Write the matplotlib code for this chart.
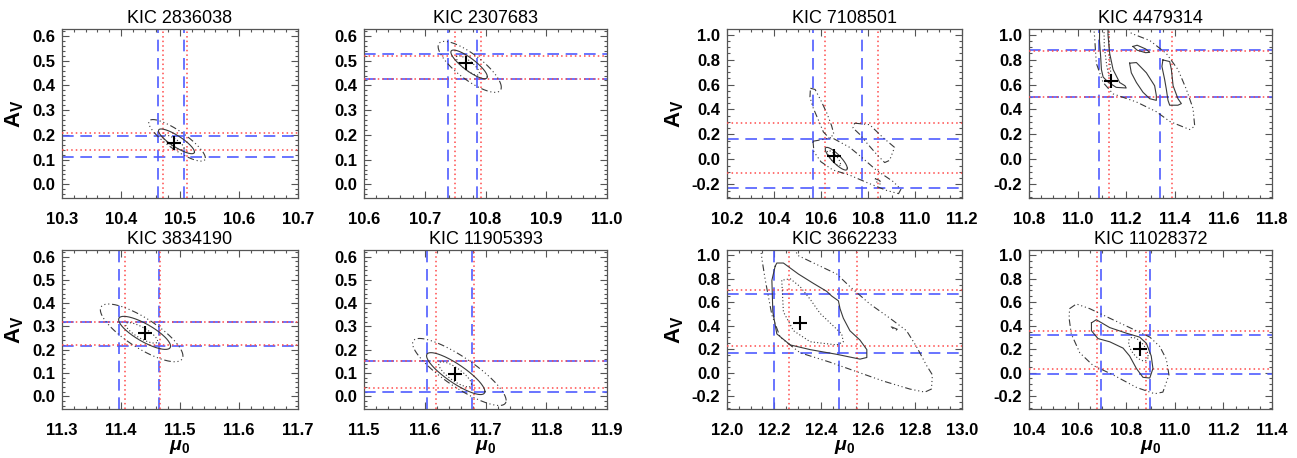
import numpy as np
import matplotlib.pyplot as plt
from matplotlib.ticker import MultipleLocator, FormatStrFormatter

plt.rcParams['font.family'] = ['Liberation Sans', 'DejaVu Sans']
plt.rcParams['axes.unicode_minus'] = False
plt.rcParams['mathtext.fontset'] = 'custom'
plt.rcParams['mathtext.rm'] = 'Liberation Sans:bold'
plt.rcParams['mathtext.it'] = 'Liberation Sans:italic:bold'

kic_ids = ['KIC 2836038', 'KIC 2307683', 'KIC 7108501', 'KIC 4479314',
           'KIC 3834190', 'KIC 11905393', 'KIC 3662233', 'KIC 11028372']
mu_ranges = [(10.3, 10.7), (10.6, 11.0), (10.2, 11.2), (10.8, 11.8),
             (11.3, 11.7), (11.5, 11.9), (12.0, 13.0), (10.4, 11.4)]

# best fit (mu0, Av)
best_mu = [10.489, 10.768, 10.655, 11.139, 11.440, 11.649, 12.311, 10.855]
best_av = [0.169, 0.492, 0.023, 0.629, 0.271, 0.094, 0.424, 0.201]

# confidence limits: blue = method 1, red = method 2
blue_mu = [(10.463, 10.507), (10.738, 10.786), (10.566, 10.776), (11.088, 11.340),
           (11.397, 11.464), (11.604, 11.678), (12.198, 12.477), (10.695, 10.897)]
red_mu = [(10.472, 10.512), (10.750, 10.793), (10.618, 10.841), (11.129, 11.388),
          (11.407, 11.466), (11.618, 11.681), (12.262, 12.554), (10.681, 10.883)]
blue_av = [(0.110, 0.195), (0.427, 0.525), (-0.229, 0.161), (0.501, 0.873),
           (0.215, 0.318), (0.016, 0.150), (0.169, 0.666), (-0.013, 0.322)]
red_av = [(0.139, 0.206), (0.424, 0.518), (-0.109, 0.288), (0.496, 0.868),
          (0.219, 0.320), (0.036, 0.151), (0.231, 0.706), (0.035, 0.352)]

# contours: tuple = ellipse (cx, cy, sx, sy, rho), list = traced outline
inner_contours = [
    [(10.489, 0.170, 0.018, 0.030, -0.8)],
    [(10.771, 0.481, 0.019, 0.039, -0.8)],
    [(10.655, 0.010, 0.028, 0.060, -0.8)],
    [[(11.108, 1.10), (11.110, 0.90), (11.120, 0.75), (11.130, 0.66), (11.140, 0.64),
      (11.135, 0.72), (11.130, 0.85), (11.128, 1.10)]],
    [(11.435, 0.272, 0.027, 0.044, -0.8)],
    [(11.650, 0.094, 0.027, 0.054, -0.8)],
    [[(12.233, 0.787), (12.240, 0.518), (12.283, 0.357), (12.354, 0.263), (12.467, 0.236),
      (12.495, 0.263), (12.488, 0.330), (12.446, 0.410), (12.396, 0.505), (12.354, 0.625),
      (12.311, 0.733), (12.269, 0.800)]],
    [(10.850, 0.200, 0.040, 0.100, -0.6)],
]
mid_contours = [
    [(10.494, 0.174, 0.0305, 0.050, -0.85)],
    [(10.773, 0.485, 0.030, 0.058, -0.85)],
    [(10.665, 0.005, 0.047, 0.091, -0.85)],
    [[(11.091, 1.10), (11.090, 0.95), (11.095, 0.82), (11.098, 0.72), (11.105, 0.66),
      (11.125, 0.62), (11.159, 0.577), (11.200, 0.572), (11.195, 0.590), (11.173, 0.616),
      (11.146, 0.720), (11.132, 0.850), (11.125, 1.00), (11.125, 1.10)],
     [(11.214, 0.771), (11.242, 0.776), (11.283, 0.694), (11.317, 0.590), (11.324, 0.512),
      (11.324, 0.473), (11.297, 0.486), (11.269, 0.538), (11.242, 0.616), (11.221, 0.694)],
     [(11.351, 0.797), (11.379, 0.784), (11.386, 0.719), (11.393, 0.590), (11.413, 0.486),
      (11.427, 0.447), (11.413, 0.434), (11.379, 0.434), (11.372, 0.473), (11.365, 0.564),
      (11.358, 0.642), (11.347, 0.745)],
     [(11.228, 0.905), (11.245, 0.915), (11.280, 0.885), (11.297, 0.858), (11.280, 0.855),
      (11.245, 0.875)]],
    [(11.440, 0.272, 0.044, 0.071, -0.8)],
    [(11.651, 0.097, 0.048, 0.090, -0.85)],
    [[(12.205, 0.907), (12.191, 0.787), (12.195, 0.518), (12.212, 0.330), (12.269, 0.236),
      (12.354, 0.196), (12.467, 0.156), (12.566, 0.115), (12.595, 0.129), (12.595, 0.196),
      (12.566, 0.277), (12.523, 0.357), (12.495, 0.464), (12.481, 0.545), (12.474, 0.612),
      (12.446, 0.652), (12.424, 0.693), (12.368, 0.760), (12.304, 0.840), (12.240, 0.934),
      (12.212, 0.934)]],
    [[(10.657, 0.424), (10.677, 0.451), (10.732, 0.384), (10.801, 0.336), (10.855, 0.303),
      (10.883, 0.250), (10.903, 0.142), (10.910, 0.035), (10.897, -0.046), (10.869, -0.040),
      (10.842, 0.035), (10.814, 0.142), (10.787, 0.209), (10.732, 0.263), (10.684, 0.290),
      (10.657, 0.357)]],
]
outer_contours = [
    [(10.495, 0.178, 0.048, 0.084, -0.85)],
    [(10.774, 0.475, 0.052, 0.103, -0.8)],
    [[(10.555, 0.57), (10.575, 0.56), (10.600, 0.47), (10.625, 0.37), (10.645, 0.27),
      (10.655, 0.20), (10.635, 0.17), (10.610, 0.22), (10.590, 0.31), (10.565, 0.42),
      (10.553, 0.50)],
     [(10.566, 0.145), (10.610, 0.160), (10.645, 0.175), (10.722, 0.096), (10.772, 0.018),
      (10.835, -0.086), (10.906, -0.177), (10.940, -0.240), (10.930, -0.275), (10.880, -0.250),
      (10.800, -0.190), (10.720, -0.125), (10.650, -0.085), (10.600, -0.020), (10.570, 0.060)],
     [(10.743, 0.290), (10.807, 0.278), (10.864, 0.174), (10.913, 0.096), (10.892, -0.008),
      (10.871, -0.026), (10.835, 0.044), (10.793, 0.135), (10.765, 0.200), (10.736, 0.252)],
     [(10.830, -0.155), (10.850, -0.170), (10.855, -0.200), (10.840, -0.190)]],
    [[(11.065, 1.10), (11.070, 0.98), (11.077, 0.77), (11.105, 0.616), (11.146, 0.525),
      (11.242, 0.460), (11.324, 0.382), (11.379, 0.304), (11.461, 0.239), (11.482, 0.265),
      (11.475, 0.408), (11.447, 0.564), (11.413, 0.720), (11.365, 0.849), (11.297, 0.953),
      (11.221, 1.010), (11.200, 1.10)]],
    [(11.435, 0.272, 0.070, 0.124, -0.8)],
    [(11.657, 0.104, 0.077, 0.144, -0.85)],
    [[(12.140, 1.10), (12.150, 0.950), (12.163, 0.787), (12.191, 0.491), (12.226, 0.303),
      (12.311, 0.169), (12.438, 0.089), (12.552, 0.008), (12.665, -0.072), (12.778, -0.140),
      (12.842, -0.166), (12.870, -0.140), (12.874, -0.019), (12.849, 0.062), (12.806, 0.223),
      (12.764, 0.357), (12.693, 0.464), (12.608, 0.585), (12.523, 0.733), (12.467, 0.840),
      (12.354, 0.948), (12.300, 1.00), (12.280, 1.10)],
     [(12.700, 0.390), (12.730, 0.365), (12.725, 0.360), (12.695, 0.385)]],
    [[(10.567, 0.545), (10.595, 0.585), (10.650, 0.545), (10.732, 0.464), (10.814, 0.384),
      (10.897, 0.303), (10.938, 0.223), (10.965, 0.115), (10.976, -0.019), (10.951, -0.166),
      (10.917, -0.180), (10.842, -0.126), (10.746, -0.019), (10.663, 0.062), (10.609, 0.169),
      (10.574, 0.330), (10.565, 0.464)]],
]

# axes boxes in pixels: left, right, top, bottom
W, H = 1297, 458
col_px = [(62, 298), (364, 607), (727, 962), (1029, 1272)]
row_px = [(29, 198), (250, 409)]

BLUE = '#4f5cff'
RED = '#ff4a4a'
GREY = '#3a3a3a'
DASHDOT3 = (0, (6, 2.5, 1, 2.5, 1, 2.5, 1, 2.5))


def outline(shape):
    if isinstance(shape, tuple):
        cx, cy, sx, sy, rho = shape
        t = np.linspace(0, 2 * np.pi, 300)
        return cx + sx * np.cos(t), cy + sy * (rho * np.cos(t) + np.sqrt(1 - rho ** 2) * np.sin(t))
    pts = np.array(shape + [shape[0]])
    return pts[:, 0], pts[:, 1]


fig = plt.figure(figsize=(W / 100, H / 100), dpi=100)

for i in range(8):
    row, col = divmod(i, 4)
    x0, x1 = col_px[col]
    top, bot = row_px[row]
    ax = fig.add_axes([x0 / W, 1 - bot / H, (x1 - x0) / W, (bot - top) / H])
    wide = col >= 2

    for v in blue_mu[i]:
        ax.axvline(v, color=BLUE, lw=1.2, ls=(0, (7, 4)), zorder=2)
    for h in blue_av[i]:
        ax.axhline(h, color=BLUE, lw=1.2, ls=(0, (7, 4)), zorder=2)
    for v in red_mu[i]:
        ax.axvline(v, color=RED, lw=1.1, ls=(0, (1, 2)), zorder=3)
    for h in red_av[i]:
        ax.axhline(h, color=RED, lw=1.1, ls=(0, (1, 2)), zorder=3)

    for shape in inner_contours[i]:
        ax.plot(*outline(shape), color=GREY, lw=0.8, ls=(0, (1, 2)), zorder=4)
    for shape in mid_contours[i]:
        ax.plot(*outline(shape), color=GREY, lw=0.8, ls='-', zorder=4)
    for shape in outer_contours[i]:
        ax.plot(*outline(shape), color=GREY, lw=0.8, ls=DASHDOT3, zorder=4)

    ax.plot(best_mu[i], best_av[i], marker='+', color='black', ms=10, mew=1.5, zorder=5)

    ax.set_xlim(*mu_ranges[i])
    if wide:
        ax.set_ylim(-0.31, 1.045)
        ax.xaxis.set_major_locator(MultipleLocator(0.2))
        ax.xaxis.set_minor_locator(MultipleLocator(0.05))
        ax.yaxis.set_major_locator(MultipleLocator(0.2))
        ax.yaxis.set_minor_locator(MultipleLocator(0.05))
    else:
        ax.set_ylim(-0.055, 0.628)
        ax.xaxis.set_major_locator(MultipleLocator(0.1))
        ax.xaxis.set_minor_locator(MultipleLocator(0.02))
        ax.yaxis.set_major_locator(MultipleLocator(0.1))
        ax.yaxis.set_minor_locator(MultipleLocator(0.02))
    ax.xaxis.set_major_formatter(FormatStrFormatter('%.1f'))
    ax.yaxis.set_major_formatter(FormatStrFormatter('%.1f'))

    ax.tick_params(which='both', direction='in', top=True, right=True,
                   color='#555555', width=0.8, labelsize=12)
    ax.tick_params(which='major', length=5)
    ax.tick_params(which='minor', length=2.5)
    ax.tick_params(axis='x', pad=10)
    ax.tick_params(axis='y', pad=5)
    for lab in ax.get_xticklabels() + ax.get_yticklabels():
        lab.set_fontweight('bold')
    for sp in ax.spines.values():
        sp.set_color('#555555')
        sp.set_linewidth(0.9)

    ax.set_title(kic_ids[i], fontsize=13, pad=4)
    if col in (0, 2):
        ax.set_ylabel('A$_\\mathrm{V}$', fontsize=16, fontweight='bold', labelpad=4)
    if row == 1:
        ax.set_xlabel('$\\mu_0$', fontsize=14, labelpad=0)

fig.savefig('out.png', dpi=100)
